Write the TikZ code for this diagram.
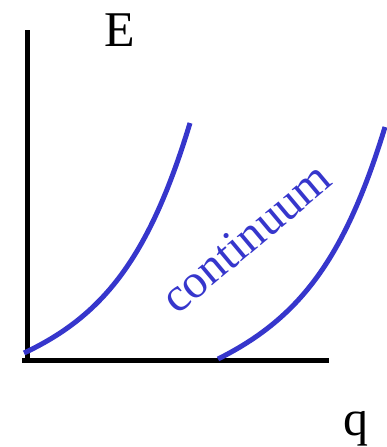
\documentclass[tikz,border=0pt]{standalone}
\usepackage{fontspec}
\setmainfont{Liberation Serif}
\definecolor{curveblue}{RGB}{54,54,204}
\begin{document}
\begin{tikzpicture}[x=1pt,y=-1pt,
  axis/.style={line width=5pt,black},
  band/.style={line width=5pt,curveblue},
  lbl/.style={font=\fontsize{50}{50}\selectfont,inner sep=0pt,anchor=base}]
\useasboundingbox (0,0) rectangle (387,447);
\coordinate (top) at (27,30);
\coordinate (orig) at (27,360);
\coordinate (xend) at (329,360);
\draw[axis] (top) -- (orig);
\draw[axis] (22,360) -- (xend);
\coordinate (a0) at (24,353);
\coordinate (a1) at (190,123);
\coordinate (b0) at (218,359);
\coordinate (b1) at (385,127);
\draw[band] (a0) .. controls (105,315) and (150,255) .. (a1);
\draw[band] (b0) .. controls (300,318) and (345,258) .. (b1);
\node[lbl] (E) at (120,46) {E};
\node[lbl] (q) at (356,435) {q};
\node[font=\fontsize{48}{48}\selectfont,text=curveblue,inner sep=0pt,anchor=base west,rotate=40] (cont) at (177,316) {continuum};
\end{tikzpicture}
\end{document}
